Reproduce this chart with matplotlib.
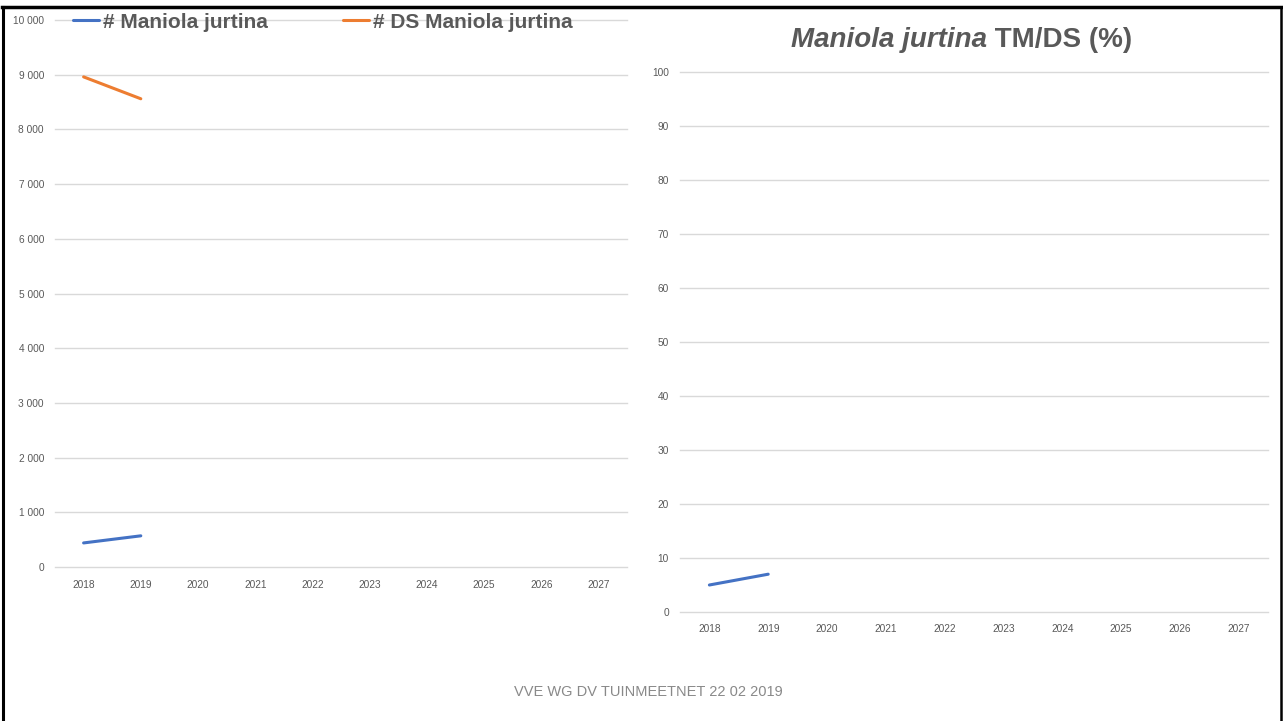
import matplotlib
matplotlib.use("Agg")
import matplotlib.pyplot as plt
from matplotlib.lines import Line2D
from matplotlib.ticker import FuncFormatter

years = ["2018", "2019", "2020", "2021", "2022", "2023", "2024", "2025", "2026", "2027"]
maniola = [440, 570]
ds_maniola = [8960, 8560]
pct_tm_ds = [5, 7]
left_yticks = [0, 1000, 2000, 3000, 4000, 5000, 6000, 7000, 8000, 9000, 10000]
right_yticks = [0, 10, 20, 30, 40, 50, 60, 70, 80, 90, 100]

W, H = 1283, 721
BLUE = "#4472C4"
ORANGE = "#ED7D31"
GRID = "#D9D9D9"
TXT = "#595959"
plt.rcParams['font.family'] = ['Liberation Sans', 'DejaVu Sans']

fig = plt.figure(figsize=(W / 100, H / 100), dpi=100)
fig.patch.set_facecolor("white")

def px_axes(x0, x1, ytop, ybot):
    return fig.add_axes([x0 / W, 1 - ybot / H, (x1 - x0) / W, (ybot - ytop) / H])

def style(ax):
    for s in ax.spines.values():
        s.set_visible(False)
    ax.tick_params(length=0, labelsize=7.3, labelcolor=TXT)
    ax.tick_params(axis='x', pad=9)
    ax.tick_params(axis='y', pad=8)
    ax.grid(axis='y', color=GRID, linewidth=1)
    ax.set_axisbelow(True)
    ax.set_xticks(range(len(years)))
    ax.set_xticklabels(years)
    ax.set_xlim(-0.5, len(years) - 0.5)

def unclip_grid(ax):
    for gl in ax.get_ygridlines():
        gl.set_clip_on(False)

# Left chart
ax1 = px_axes(55, 627, 20, 567)
style(ax1)
ax1.set_ylim(0, 10000)
ax1.set_yticks(left_yticks)
ax1.yaxis.set_major_formatter(FuncFormatter(lambda v, p: f"{int(v):,}".replace(",", " ")))
unclip_grid(ax1)
l1, = ax1.plot(range(len(maniola)), maniola, color=BLUE, linewidth=2.2, solid_capstyle='round')
l2, = ax1.plot(range(len(ds_maniola)), ds_maniola, color=ORANGE, linewidth=2.2, solid_capstyle='round')
leg = fig.legend([l1, l2], ["# Maniola jurtina", "# DS Maniola jurtina"],
                 loc='center left', bbox_to_anchor=(73 / W, 1 - 22 / H), ncol=2,
                 frameon=False, prop={'weight': 'bold', 'size': 15},
                 handlelength=1.25, handletextpad=0.2, columnspacing=3.6,
                 borderpad=0, borderaxespad=0)
for t in leg.get_texts():
    t.set_color(TXT)

# Right chart
ax2 = px_axes(680, 1268, 72, 612)
style(ax2)
ax2.set_ylim(0, 100)
ax2.set_yticks(right_yticks)
unclip_grid(ax2)
ax2.plot(range(len(pct_tm_ds)), pct_tm_ds, color=BLUE, linewidth=2.2, solid_capstyle='round')

# Title with italic part
fig.canvas.draw()
r = fig.canvas.get_renderer()
t1 = fig.text(0, 1 - 40 / H, "Maniola jurtina", fontsize=20, style='italic', weight='bold',
              color=TXT, va='center', ha='left')
t2 = fig.text(0, 1 - 40 / H, " TM/DS (%)", fontsize=20, weight='bold',
              color=TXT, va='center', ha='left')
w1 = t1.get_window_extent(r).width
w2 = t2.get_window_extent(r).width
cx = 962
start = cx - (w1 + w2) / 2
t1.set_x(start / W)
t2.set_x((start + w1) / W)

# Footer
fig.text(648 / W, 1 - 692 / H, "VVE WG DV TUINMEETNET 22 02 2019", fontsize=10.5,
         color="#898989", ha='center', va='center')

# Frame
fig.add_artist(Line2D([3 / W, 3 / W], [0, 1 - 7 / H], color='black', linewidth=2.2, transform=fig.transFigure))
fig.add_artist(Line2D([2 / W, 1282 / W], [1 - 7 / H, 1 - 7 / H], color='black', linewidth=2.5, transform=fig.transFigure))
fig.add_artist(Line2D([1280.5 / W, 1280.5 / W], [0, 1 - 7 / H], color='black', linewidth=1.8, transform=fig.transFigure))

fig.savefig("out.png", dpi=100, facecolor="white")
